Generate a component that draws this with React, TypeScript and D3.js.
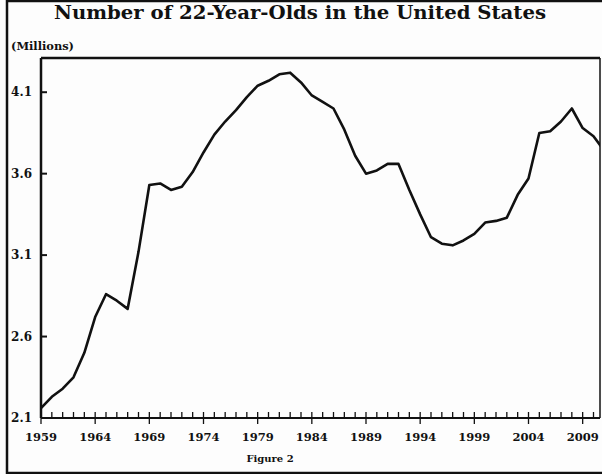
import React from "react";
import * as d3 from "d3";

// Number of 22-year-olds in the US, millions
const years = [
  1959, 1960, 1961, 1962, 1963, 1964, 1965, 1966, 1967, 1968,
  1969, 1970, 1971, 1972, 1973, 1974, 1975, 1976, 1977, 1978,
  1979, 1980, 1981, 1982, 1983, 1984, 1985, 1986, 1987, 1988,
  1989, 1990, 1991, 1992, 1993, 1994, 1995, 1996, 1997, 1998,
  1999, 2000, 2001, 2002, 2003, 2004, 2005, 2006, 2007, 2008,
  2009, 2010, 2011,
];
const millions = [
  2.16, 2.23, 2.28, 2.35, 2.5, 2.72, 2.86, 2.82, 2.77, 3.12,
  3.53, 3.54, 3.5, 3.52, 3.61, 3.73, 3.84, 3.92, 3.99, 4.07,
  4.14, 4.17, 4.21, 4.22, 4.16, 4.08, 4.04, 4.0, 3.87, 3.71,
  3.6, 3.62, 3.66, 3.66, 3.5, 3.35, 3.21, 3.17, 3.16, 3.19,
  3.23, 3.3, 3.31, 3.33, 3.47, 3.57, 3.85, 3.86, 3.92, 4.0,
  3.88, 3.83, 3.74,
];
const yTicks = [2.1, 2.6, 3.1, 3.6, 4.1];
const yTickLabels = ["2.1", "2.6", "3.1", "3.6", "4.1"];
const xLabelYears = [1959, 1964, 1969, 1974, 1979, 1984, 1989, 1994, 1999, 2004, 2009];

const title = "Number of 22-Year-Olds in the United States";
const unitLabel = "(Millions)";
const caption = "Figure 2";

const font = "'DejaVu Serif', 'Liberation Serif', serif";

export default function App() {
  const left = 41, right = 600, top = 58, bottom = 418;

  const x = d3.scaleLinear().domain([1959, 2010.6]).range([left, right]);
  const y = d3.scaleLinear().domain([2.1, 4.31]).range([bottom, top]);

  const pts: [number, number][] = years.map((yr, i) => [yr, millions[i]]);
  const line = d3.line<[number, number]>()
    .x(d => x(d[0]))
    .y(d => y(d[1]))
    .curve(d3.curveLinear);

  const minorYears = d3.range(1959, 2011);

  return (
    <svg width={602} height={474} style={{ position: "absolute", left: 0, top: 0, background: "#fdfdfd" }}>
      <defs>
        <clipPath id="plot">
          <rect x={left} y={top} width={right - left} height={bottom - top} />
        </clipPath>
      </defs>

      {/* outer frame */}
      <rect x={7} y={1} width={600} height={472} fill="none" stroke="#111" strokeWidth={2.5} />

      <text x={300} y={19} textAnchor="middle" fontFamily={font} fontWeight="bold"
        fontSize={19} textLength={492} lengthAdjust="spacingAndGlyphs" fill="#111">{title}</text>
      <text x={11} y={50} fontFamily={font} fontWeight="bold" fontSize={11}
        textLength={63} lengthAdjust="spacingAndGlyphs" fill="#111">{unitLabel}</text>

      {/* plot box */}
      <line x1={left} x2={right} y1={top} y2={top} stroke="#111" strokeWidth={2.5} />
      <line x1={right} x2={right} y1={top} y2={bottom} stroke="#111" strokeWidth={1.5} />
      <line x1={left} x2={left} y1={top} y2={bottom} stroke="#111" strokeWidth={2.5} />
      <line x1={left} x2={right} y1={bottom} y2={bottom} stroke="#111" strokeWidth={2} />

      {/* y ticks */}
      {yTicks.map((v, i) => (
        <g key={v}>
          <line x1={left} x2={left + 6} y1={y(v)} y2={y(v)} stroke="#111" strokeWidth={2} />
          <text x={32} y={y(v)} dy="0.35em" textAnchor="end" fontFamily={font}
            fontWeight="bold" fontSize={12} fill="#111">{yTickLabels[i]}</text>
        </g>
      ))}

      {/* x ticks */}
      {minorYears.map(yr => {
        const major = (yr - 1959) % 5 === 0;
        return (
          <line key={yr} x1={x(yr)} x2={x(yr)} y1={bottom - 6} y2={major ? bottom + 6 : bottom}
            stroke="#111" strokeWidth={1.3} />
        );
      })}
      {xLabelYears.map(yr => (
        <text key={yr} x={x(yr)} y={441} textAnchor="middle" fontFamily={font}
          fontWeight="bold" fontSize={11.5} fill="#111">{yr}</text>
      ))}

      <path d={line(pts) ?? ""} fill="none" stroke="#111" strokeWidth={2.6}
        strokeLinejoin="round" clipPath="url(#plot)" />

      <text x={270} y={462} textAnchor="middle" fontFamily={font} fontWeight="bold"
        fontSize={10} fill="#111">{caption}</text>
    </svg>
  );
}
